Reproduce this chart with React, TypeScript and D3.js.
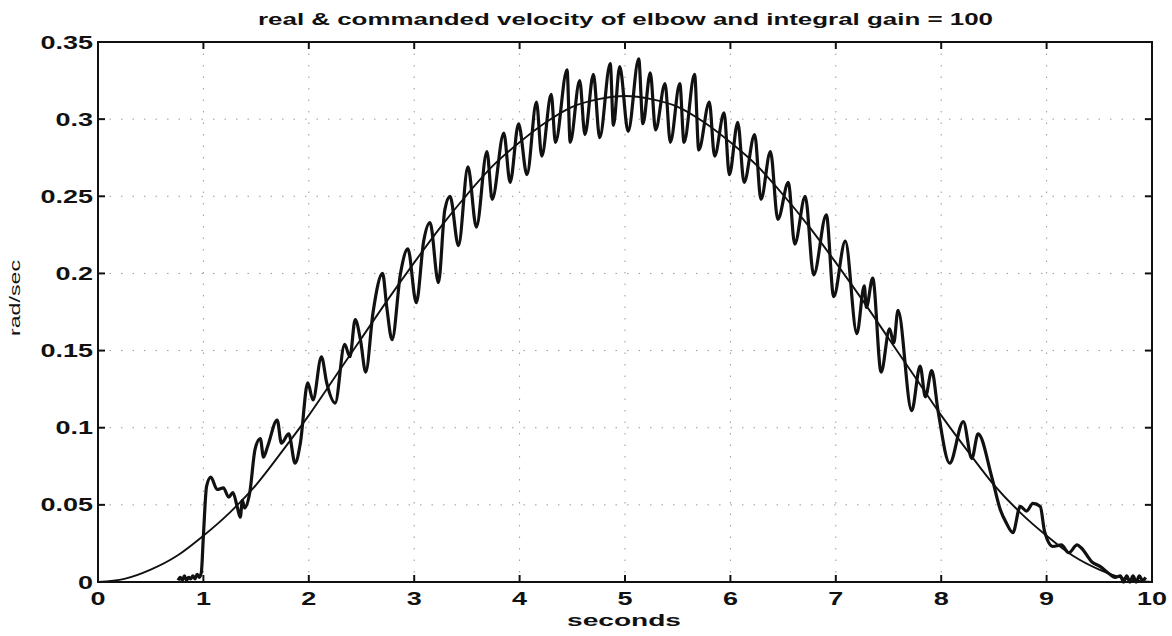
import { useEffect, useRef } from "react";
import * as d3 from "d3";

const title = "real & commanded velocity of elbow and integral gain = 100";
const xLabel = "seconds";
const yLabel = "rad/sec";

const xTicks = [0, 1, 2, 3, 4, 5, 6, 7, 8, 9, 10];
const yTicks = [0, 0.05, 0.1, 0.15, 0.2, 0.25, 0.3, 0.35];

// commanded velocity, read every 0.25 s
const cmdTime = [
  0, 0.25, 0.5, 0.75, 1, 1.25, 1.5, 1.75, 2, 2.25, 2.5, 2.75, 3, 3.25, 3.5, 3.75, 4, 4.25, 4.5, 4.75, 5,
  5.25, 5.5, 5.75, 6, 6.25, 6.5, 6.75, 7, 7.25, 7.5, 7.75, 8, 8.25, 8.5, 8.75, 9, 9.25, 9.5, 9.75, 10
];
const cmdVel = [
  0, 0.002, 0.008, 0.017, 0.03, 0.045, 0.063, 0.085, 0.108, 0.133, 0.158, 0.183, 0.207, 0.23, 0.251, 0.27,
  0.285, 0.298, 0.308, 0.313, 0.315, 0.313, 0.308, 0.298, 0.285, 0.27, 0.251, 0.23, 0.207, 0.183, 0.158,
  0.133, 0.108, 0.085, 0.063, 0.045, 0.03, 0.017, 0.008, 0.002, 0
];

const realTime = [
  0.76, 0.78, 0.8, 0.82, 0.84, 0.86, 0.88, 0.9, 0.92, 0.94, 0.96, 0.98, 1.0, 1.03, 1.07, 1.13, 1.19, 1.24,
  1.28, 1.32, 1.35, 1.37, 1.39, 1.44, 1.49, 1.54, 1.57, 1.61, 1.7, 1.74, 1.81, 1.87, 1.92, 1.99, 2.04, 2.12,
  2.17, 2.25, 2.34, 2.39, 2.44, 2.49, 2.54, 2.61, 2.7, 2.74, 2.79, 2.87, 2.94, 3.02, 3.09, 3.15, 3.23, 3.29,
  3.34, 3.42, 3.51, 3.59, 3.69, 3.74, 3.85, 3.91, 3.99, 4.07, 4.16, 4.21, 4.3, 4.34, 4.45, 4.48, 4.57, 4.62,
  4.7, 4.76, 4.86, 4.89, 4.95, 5.03, 5.13, 5.17, 5.24, 5.29, 5.38, 5.43, 5.52, 5.56, 5.66, 5.7, 5.8, 5.85,
  5.94, 5.99, 6.07, 6.13, 6.23, 6.29, 6.38, 6.45, 6.55, 6.61, 6.71, 6.79, 6.91, 6.98, 7.09, 7.2, 7.27, 7.29,
  7.35, 7.43, 7.51, 7.55, 7.59, 7.72, 7.8, 7.85, 7.91, 7.97, 8.08, 8.21, 8.29, 8.35, 8.48, 8.56, 8.62, 8.68,
  8.75, 8.81, 8.87, 8.94, 8.98, 9.06, 9.14, 9.21, 9.29, 9.33, 9.43, 9.51, 9.6, 9.65, 9.7, 9.73, 9.76, 9.79,
  9.82, 9.85, 9.88, 9.91, 9.94
];
const realVel = [
  0.001, 0.003, 0.001, 0.004, 0.001, 0.003, 0.002, 0.004, 0.002, 0.005, 0.003, 0.006, 0.03, 0.062, 0.068,
  0.06, 0.061, 0.055, 0.058, 0.049, 0.042, 0.053, 0.048, 0.058, 0.086, 0.093, 0.081, 0.088, 0.105, 0.09,
  0.096, 0.077, 0.09, 0.129, 0.118, 0.146, 0.129, 0.116, 0.154, 0.146, 0.17, 0.157, 0.136, 0.175, 0.2, 0.178,
  0.157, 0.2, 0.216, 0.181, 0.221, 0.233, 0.194, 0.241, 0.25, 0.218, 0.269, 0.23, 0.279, 0.248, 0.291, 0.259,
  0.297, 0.264, 0.311, 0.276, 0.316, 0.285, 0.332, 0.285, 0.325, 0.29, 0.329, 0.288, 0.336, 0.296, 0.334,
  0.292, 0.339, 0.297, 0.33, 0.293, 0.323, 0.285, 0.323, 0.285, 0.329, 0.28, 0.311, 0.276, 0.304, 0.264,
  0.298, 0.259, 0.29, 0.248, 0.279, 0.235, 0.259, 0.219, 0.25, 0.199, 0.238, 0.185, 0.221, 0.161, 0.192,
  0.178, 0.197, 0.136, 0.164, 0.155, 0.176, 0.111, 0.14, 0.12, 0.137, 0.111, 0.077, 0.104, 0.08, 0.096,
  0.068, 0.047, 0.038, 0.032, 0.049, 0.046, 0.051, 0.049, 0.033, 0.023, 0.024, 0.019, 0.024, 0.022, 0.013,
  0.01, 0.005, 0.003, 0.004, 0.0, 0.004, 0.0, 0.004, 0.0, 0.004, 0.001, 0.003
];

export default function App() {
  const svgRef = useRef<SVGSVGElement>(null);

  useEffect(() => {
    const svg = d3.select(svgRef.current);
    svg.selectAll("*").remove();

    const width = 1172;
    const height = 636;
    const margin = { top: 42, right: 20, bottom: 54, left: 98 };
    const font = "'Liberation Sans', Arial, Helvetica, sans-serif";
    const stretch = 1.5; // the scanned lettering is wide

    const x = d3.scaleLinear().domain([0, 10]).range([margin.left, width - margin.right]);
    const y = d3.scaleLinear().domain([0, 0.35]).range([height - margin.bottom, margin.top]);

    svg.append("rect").attr("width", width).attr("height", height).attr("fill", "#fff");

    // dotted grid
    const grid = svg.append("g").attr("stroke", "#9a9a9a").attr("stroke-width", 1).attr("stroke-dasharray", "1.5,10");
    grid
      .selectAll("line.gx")
      .data(xTicks.slice(1, -1))
      .join("line")
      .attr("x1", (d) => x(d))
      .attr("x2", (d) => x(d))
      .attr("y1", y(0.35))
      .attr("y2", y(0));
    grid
      .selectAll("line.gy")
      .data(yTicks.slice(1, -1))
      .join("line")
      .attr("x1", x(0))
      .attr("x2", x(10))
      .attr("y1", (d) => y(d))
      .attr("y2", (d) => y(d));

    // commanded
    const cmdLine = d3
      .line<number>()
      .x((_, i) => x(cmdTime[i]))
      .y((d) => y(d))
      .curve(d3.curveMonotoneX);
    svg
      .append("path")
      .attr("d", cmdLine(cmdVel))
      .attr("fill", "none")
      .attr("stroke", "#111")
      .attr("stroke-width", 1.9);

    // real
    const realLine = d3
      .line<number>()
      .x((_, i) => x(realTime[i]))
      .y((d) => y(d))
      .curve(d3.curveMonotoneX);
    svg
      .append("path")
      .attr("d", realLine(realVel))
      .attr("fill", "none")
      .attr("stroke", "#111")
      .attr("stroke-width", 3.2)
      .attr("stroke-linejoin", "round");

    // box
    svg
      .append("rect")
      .attr("x", x(0))
      .attr("y", y(0.35))
      .attr("width", x(10) - x(0))
      .attr("height", y(0) - y(0.35))
      .attr("fill", "none")
      .attr("stroke", "#111")
      .attr("stroke-width", 2);

    // inward ticks on all four sides
    const tickLen = 7;
    const ticks = svg.append("g").attr("stroke", "#111").attr("stroke-width", 2);
    xTicks.forEach((t) => {
      ticks.append("line").attr("x1", x(t)).attr("x2", x(t)).attr("y1", y(0)).attr("y2", y(0) - tickLen);
      ticks.append("line").attr("x1", x(t)).attr("x2", x(t)).attr("y1", y(0.35)).attr("y2", y(0.35) + tickLen);
    });
    yTicks.forEach((v) => {
      ticks.append("line").attr("x1", x(0)).attr("x2", x(0) + tickLen).attr("y1", y(v)).attr("y2", y(v));
      ticks.append("line").attr("x1", x(10)).attr("x2", x(10) - tickLen).attr("y1", y(v)).attr("y2", y(v));
    });

    // tick labels
    svg
      .append("g")
      .selectAll("text")
      .data(xTicks)
      .join("text")
      .attr("transform", (d) => `translate(${x(d)},${y(0) + 23}) scale(${stretch},1)`)
      .attr("text-anchor", "middle")
      .attr("font-family", font)
      .attr("font-weight", "bold")
      .attr("font-size", 18)
      .attr("fill", "#111")
      .text((d) => String(d));
    svg
      .append("g")
      .selectAll("text")
      .data(yTicks)
      .join("text")
      .attr("transform", (d) => `translate(${x(0) - 5},${y(d) + 6.5}) scale(${stretch},1)`)
      .attr("text-anchor", "end")
      .attr("font-family", font)
      .attr("font-weight", "bold")
      .attr("font-size", 18)
      .attr("fill", "#111")
      .text((d) => String(d));

    svg
      .append("text")
      .attr("x", 258)
      .attr("y", 25)
      .attr("textLength", 735)
      .attr("lengthAdjust", "spacingAndGlyphs")
      .attr("font-family", font)
      .attr("font-weight", "bold")
      .attr("font-size", 16)
      .attr("fill", "#111")
      .text(title);
    svg
      .append("text")
      .attr("x", 567)
      .attr("y", 626)
      .attr("textLength", 114)
      .attr("lengthAdjust", "spacingAndGlyphs")
      .attr("font-family", font)
      .attr("font-weight", "bold")
      .attr("font-size", 16)
      .attr("fill", "#111")
      .text(xLabel);
    svg
      .append("text")
      .attr("transform", `translate(20,336) rotate(-90)`)
      .attr("textLength", 76)
      .attr("lengthAdjust", "spacingAndGlyphs")
      .attr("font-family", font)
      .attr("font-size", 15)
      .attr("fill", "#111")
      .text(yLabel);
  }, []);

  return (
    <svg
      ref={svgRef}
      width={1172}
      height={636}
      style={{ position: "absolute", left: 0, top: 0, display: "block" }}
    />
  );
}
